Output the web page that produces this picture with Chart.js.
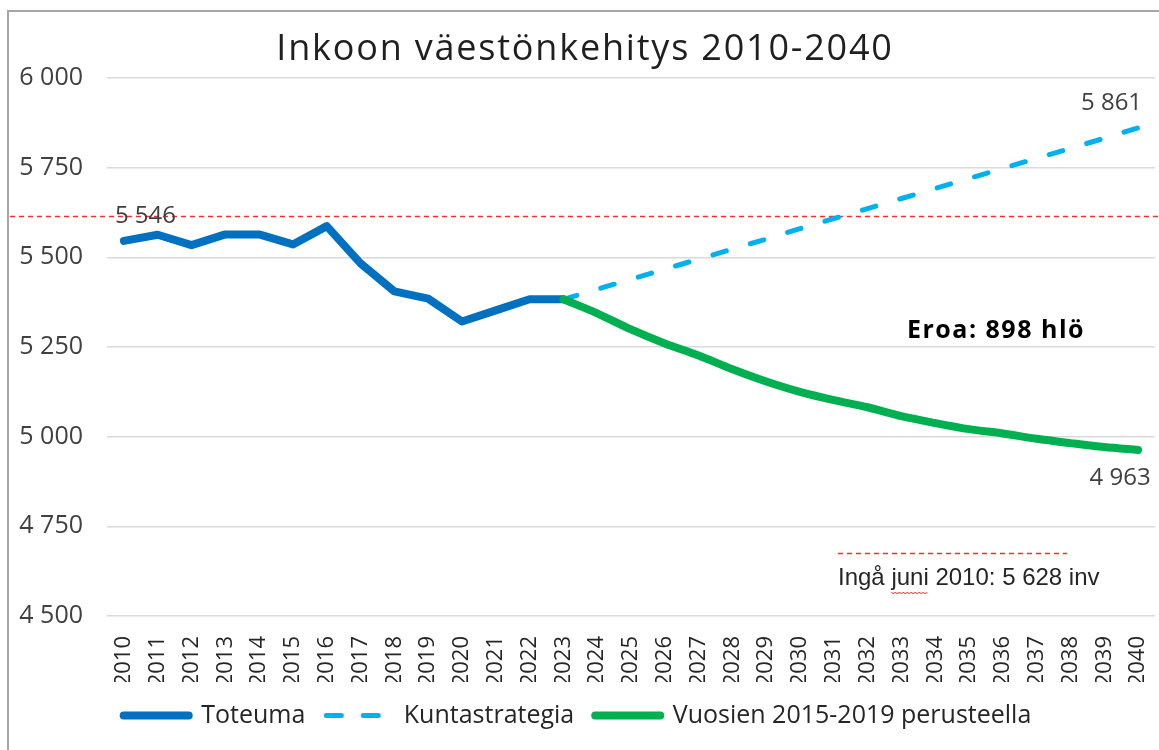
<!DOCTYPE html>
<html>
<head>
<meta charset="utf-8">
<script src="https://cdn.jsdelivr.net/npm/chart.js@4.4.1/dist/chart.umd.min.js"></script>
<style>
    html, body { margin: 0; padding: 0; background: #fff; }
    #wrap { width: 1159px; height: 750px; position: relative; }
</style>
</head>
<body>
<div id="wrap"><canvas id="chartInkoo" width="1159" height="750"></canvas></div>
<script>
// ===========================================
// Inkoon väestönkehitys 2010-2040
// ===========================================

const years = ['2010', '2011', '2012', '2013', '2014', '2015', '2016', '2017', '2018', '2019',
    '2020', '2021', '2022', '2023', '2024', '2025', '2026', '2027', '2028', '2029',
    '2030', '2031', '2032', '2033', '2034', '2035', '2036', '2037', '2038', '2039', '2040'];

const toteuma = [5546, 5563, 5534, 5564, 5564, 5536, 5587, 5483, 5405, 5385,
    5321, 5352, 5383, 5383, null, null, null, null, null, null,
    null, null, null, null, null, null, null, null, null, null, null];

const kuntastrategia = [null, null, null, null, null, null, null, null, null, null,
    null, null, null, 5383, 5411, 5439, 5467, 5495, 5523, 5551,
    5580, 5608, 5636, 5664, 5692, 5720, 5748, 5776, 5804, 5832, 5861];

const trendi = [null, null, null, null, null, null, null, null, null, null,
    null, null, null, 5383, 5344, 5299, 5260, 5226, 5188, 5154,
    5125, 5102, 5082, 5057, 5038, 5021, 5009, 4994, 4982, 4971, 4963];

const seriesNames = ['Toteuma', 'Kuntastrategia', 'Vuosien 2015-2019 perusteella'];
const yTicks = [4500, 4750, 5000, 5250, 5500, 5750, 6000];

const ingaJuni2010 = 5628;   // teksti
const ingaViiva = 5615;      // punainen katkoviiva kuvassa

const FONT = '"Open Sans", sans-serif';
const fmt = v => String(v).replace(/\B(?=(\d{3})+(?!\d))/g, ' ');

const legendWidths = [8, 5, 8];
const legendDash = [[], [15, 22], []];

// ============================
// Overlay: kehys, otsikko, arvot, huomautukset
// ============================
const overlayPlugin = {
    id: 'overlay',
    beforeDatasetsDraw(chart) {
        const { ctx, scales: { y } } = chart;
        const yy = Math.round(y.getPixelForValue(ingaViiva)) + 0.5;
        ctx.save();
        ctx.strokeStyle = '#ff2a2a';
        ctx.lineWidth = 1.5;
        ctx.setLineDash([5, 4]);
        ctx.beginPath();
        ctx.moveTo(10, yy);
        ctx.lineTo(chart.width, yy);
        ctx.stroke();
        ctx.restore();
    },
    afterDraw(chart) {
        const { ctx } = chart;
        ctx.save();

        // kehys
        ctx.strokeStyle = '#a6a6a6';
        ctx.lineWidth = 2;
        ctx.beginPath();
        ctx.moveTo(8, chart.height);
        ctx.lineTo(8, 11);
        ctx.lineTo(chart.width, 11);
        ctx.stroke();

        // otsikko
        ctx.fillStyle = '#1f1f1f';
        ctx.font = `36px ${FONT}`;
        ctx.letterSpacing = '1.8px';
        ctx.textAlign = 'center';
        ctx.textBaseline = 'middle';
        ctx.fillText('Inkoon väestönkehitys 2010-2040', 585, 50);
        ctx.letterSpacing = '0px';

        // arvot
        ctx.fillStyle = '#404040';
        ctx.font = `24px ${FONT}`;
        const pt = (ds, i) => chart.getDatasetMeta(ds).data[i];
        const last = years.length - 1;
        let p = pt(0, 0);
        ctx.textAlign = 'left';
        ctx.fillText(fmt(toteuma[0]), p.x - 9, p.y - 25);
        p = pt(1, last);
        ctx.textAlign = 'right';
        ctx.fillText(fmt(kuntastrategia[last]), p.x + 4, p.y - 25);
        p = pt(2, last);
        ctx.textAlign = 'center';
        ctx.fillText(fmt(trendi[last]), p.x - 18, p.y + 28);

        // Eroa
        ctx.fillStyle = '#000';
        ctx.font = `bold 25px ${FONT}`;
        ctx.letterSpacing = '1.5px';
        ctx.textAlign = 'center';
        ctx.fillText(`Eroa: ${fmt(kuntastrategia[last] - trendi[last])} hlö`, 996, 331);
        ctx.letterSpacing = '0px';

        // Ingå juni 2010
        const lx0 = 838, lx1 = 1067, ly = 553.5;
        ctx.strokeStyle = '#ff2a2a';
        ctx.lineWidth = 1.5;
        ctx.setLineDash([5, 4]);
        ctx.beginPath();
        ctx.moveTo(lx0, ly);
        ctx.lineTo(lx1, ly);
        ctx.stroke();
        ctx.setLineDash([]);

        ctx.fillStyle = '#262626';
        ctx.font = '24px "Liberation Sans", Arial, sans-serif';
        ctx.textAlign = 'left';
        const txt = `Ingå juni 2010: ${fmt(ingaJuni2010)} inv`;
        ctx.fillText(txt, lx0, 578);

        // oikoluvun aaltoviiva "juni"-sanan alla
        const pre = ctx.measureText('Ingå ').width;
        const w = ctx.measureText('juni').width;
        ctx.strokeStyle = '#e02020';
        ctx.lineWidth = 1;
        ctx.beginPath();
        for (let k = 0; k <= w; k += 2) {
            const yy = 592 + (k % 4 === 0 ? 0 : 2);
            if (k === 0) ctx.moveTo(lx0 + pre + k, yy); else ctx.lineTo(lx0 + pre + k, yy);
        }
        ctx.stroke();

        ctx.restore();
    }
};

const ctx = document.getElementById('chartInkoo');
new Chart(ctx.getContext('2d'), {
    type: 'line',
    data: {
        labels: years,
        datasets: [{
            label: seriesNames[0],
            data: toteuma,
            borderColor: '#0070c0',
            backgroundColor: '#0070c0',
            borderWidth: 8,
            borderCapStyle: 'round',
            borderJoinStyle: 'round',
            pointRadius: 0,
            tension: 0,
            order: 1
        }, {
            label: seriesNames[1],
            data: kuntastrategia,
            borderColor: '#00b0f0',
            backgroundColor: '#00b0f0',
            borderWidth: 5,
            borderDash: [14, 25],
            borderCapStyle: 'round',
            pointRadius: 0,
            tension: 0,
            order: 2
        }, {
            label: seriesNames[2],
            data: trendi,
            borderColor: '#00b050',
            backgroundColor: '#00b050',
            borderWidth: 8,
            borderCapStyle: 'round',
            borderJoinStyle: 'round',
            pointRadius: 0,
            tension: 0.3,
            order: 0
        }]
    },
    options: {
        responsive: false,
        animation: false,
        devicePixelRatio: 1,
        layout: { padding: { top: 78, right: 4, left: 0, bottom: 12 } },
        plugins: {
            title: { display: false },
            tooltip: { enabled: false },
            legend: {
                position: 'bottom',
                labels: {
                    usePointStyle: true,
                    pointStyleWidth: 65,
                    padding: 21,
                    color: '#262626',
                    font: { family: FONT, size: 25 },
                    generateLabels: chart => chart.data.datasets.map((ds, i) => ({
                        text: ds.label,
                        fillStyle: ds.borderColor,
                        strokeStyle: ds.borderColor,
                        lineWidth: legendWidths[i],
                        lineDash: legendDash[i],
                        lineCap: 'round',
                        pointStyle: 'line',
                        fontColor: '#262626',
                        hidden: false,
                        datasetIndex: i
                    }))
                }
            }
        },
        scales: {
            x: {
                offset: true,
                grid: { display: false },
                border: { display: false },
                afterFit: s => { s.height = 66; s.paddingLeft = 0; s.paddingRight = 0; },
                ticks: {
                    autoSkip: false,
                    minRotation: 90,
                    maxRotation: 90,
                    padding: 12,
                    color: '#262626',
                    font: { family: FONT, size: 22 }
                }
            },
            y: {
                min: 4500,
                max: 6000,
                afterFit: s => { s.width = 107; },
                afterBuildTicks: s => { s.ticks = yTicks.map(v => ({ value: v })); },
                grid: { color: '#d9d9d9', lineWidth: 1.5, drawTicks: false },
                border: { display: false },
                ticks: {
                    padding: 24,
                    color: '#404040',
                    font: { family: FONT, size: 25 },
                    callback: v => fmt(v)
                }
            }
        }
    },
    plugins: [overlayPlugin]
});
</script>
</body>
</html>
